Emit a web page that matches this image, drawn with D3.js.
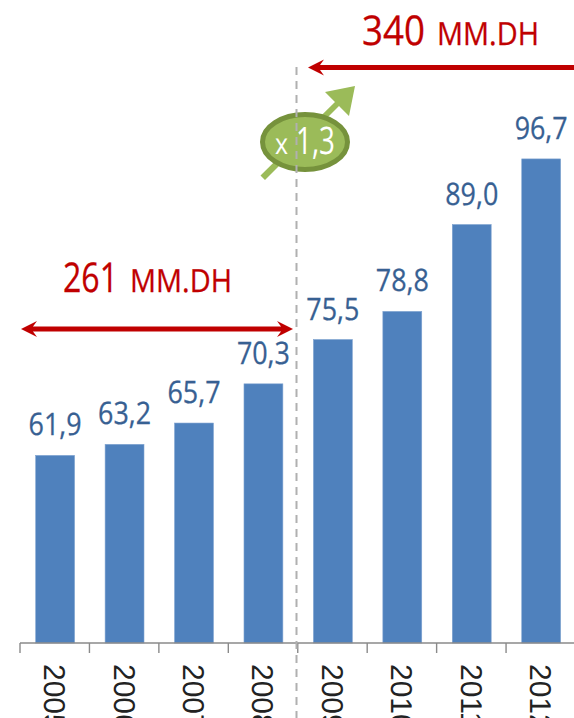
<!DOCTYPE html>
<html><head><meta charset="utf-8">
<script src="https://cdn.jsdelivr.net/npm/d3@7"></script>
<style>html,body{margin:0;padding:0;background:#fff;overflow:hidden}svg{display:block}</style>
</head><body><div id="c"></div>
<script>
const years = ["2005","2006","2007","2008","2009","2010","2011","2012"];
const values = [61.9,63.2,65.7,70.3,75.5,78.8,89.0,96.7];
const valueLabels = ["61,9","63,2","65,7","70,3","75,5","78,8","89,0","96,7"];
const W=574,H=718,baseY=643;
const svg=d3.select("#c").append("svg").attr("width",W).attr("height",H).style("text-rendering","geometricPrecision");
const x=d3.scaleBand().domain(years).range([20.4,575.9]).paddingInner(0.44).paddingOuter(0.22);
const y=d3.scaleLinear().domain([40,100]).range([642,642-60*8.52]);
const font="'Open Sans','Noto Sans',sans-serif";
const red="#C00000";

svg.append("g").selectAll("rect").data(values).join("rect")
 .attr("x",(d,i)=>x(years[i])).attr("width",x.bandwidth())
 .attr("y",d=>y(d)).attr("height",d=>baseY-y(d))
 .attr("fill","#4F81BD").attr("stroke","#7FA3D0").attr("stroke-width",0.6);

const step=x.step();
const ticks=d3.range(9).map(i=>20+i*step);
const ax=svg.append("g");
ax.append("line").attr("x1",20).attr("x2",W).attr("y1",baseY).attr("y2",baseY).attr("stroke","#8a8a8a").attr("stroke-width",1.6);
ax.selectAll("line.t").data(ticks).join("line").attr("class","t")
 .attr("x1",d=>d).attr("x2",d=>d).attr("y1",baseY).attr("y2",653).attr("stroke","#8a8a8a").attr("stroke-width",1.4);

svg.append("g").selectAll("text").data(years).join("text")
 .attr("transform",(d,i)=>`translate(${x(d)+x.bandwidth()/2-11},664) rotate(90)`)
 .attr("font-family","'Liberation Sans',Arial,sans-serif").attr("font-size",30).attr("fill","#222")
 .text(d=>d);

svg.append("g").selectAll("text").data(values).join("text")
 .attr("x",(d,i)=>x(years[i])+x.bandwidth()/2).attr("y",d=>y(d)-20)
 .attr("text-anchor","middle").attr("font-family",font).attr("font-size",31)
 .attr("textLength",53).attr("lengthAdjust","spacingAndGlyphs")
 .attr("fill","#376092").attr("stroke","#376092").attr("stroke-width",0.3).text((d,i)=>valueLabels[i]);

// green growth arrow
const g=svg.append("g");
g.append("path").attr("d","M260.5,175.5 L335,102 L325,92 L355,86 L349,116 L339,106 L265,180 Z").attr("fill","#9BBB59");
g.append("ellipse").attr("cx",305).attr("cy",142).attr("rx",42.5).attr("ry",27.5).attr("fill","#9BBB59").attr("stroke","#76923C").attr("stroke-width",5);

// dashed divider
svg.append("line").attr("x1",296.5).attr("x2",296.5).attr("y1",67).attr("y2",H)
 .attr("stroke","#b0b0b0").attr("stroke-width",2).attr("stroke-dasharray","8 6");

g.append("text").attr("x",275).attr("y",154).attr("font-family",font).attr("font-size",29).attr("fill","#fff")
 .attr("textLength",13).attr("lengthAdjust","spacingAndGlyphs").text("x");
g.append("text").attr("x",296).attr("y",154).attr("font-family",font).attr("font-size",38).attr("fill","#fff")
 .attr("textLength",39).attr("lengthAdjust","spacingAndGlyphs").text("1,3");

// red arrows
function head(px,py,dir){return `M${px},${py} L${px+dir*16},${py-8} L${px+dir*12},${py-2.5} L${px+dir*12},${py+2.5} L${px+dir*16},${py+8} Z`;}
svg.append("rect").attr("x",318).attr("y",65).attr("width",W-318).attr("height",5).attr("fill",red);
svg.append("path").attr("d",head(308,67.5,1)).attr("fill",red);
svg.append("rect").attr("x",32).attr("y",326.5).attr("width",250).attr("height",5).attr("fill",red);
svg.append("path").attr("d",head(21,329,1)).attr("fill",red);
svg.append("path").attr("d",head(293,329,-1)).attr("fill",red);

function total(big,small,bx,bw,sx,sw,by){
 svg.append("text").attr("x",bx).attr("y",by).attr("font-family",font).attr("font-size",41).attr("fill",red)
  .attr("stroke",red).attr("stroke-width",0.3)
  .attr("textLength",bw).attr("lengthAdjust","spacingAndGlyphs").text(big);
 svg.append("text").attr("x",sx).attr("y",by).attr("font-family",font).attr("font-size",32).attr("fill",red)
  .attr("stroke",red).attr("stroke-width",0.3)
  .attr("textLength",sw).attr("lengthAdjust","spacingAndGlyphs").text(small);
}
total("340","MM.DH",362,63,437,102,45);
total("261","MM.DH",63,55,130,102,292);
</script></body></html>
